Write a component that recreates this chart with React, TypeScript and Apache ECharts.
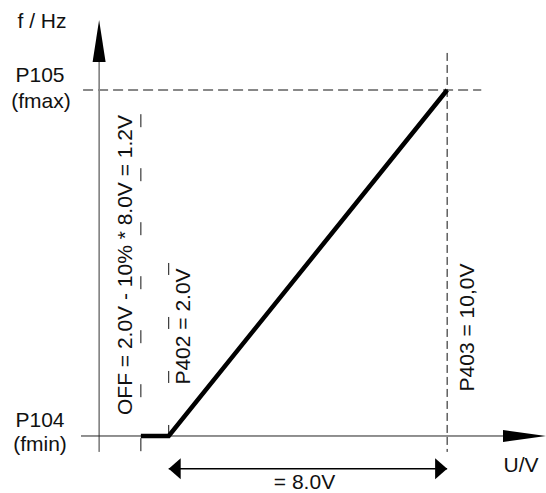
import React, { useEffect, useRef } from "react";
import * as echarts from "echarts";

// ---- chart values ----
const pointNames = ["OFF", "P402", "P403"];
const voltages = [1.2, 2.0, 10.0]; // U/V
const frequencies = [0, 0, 1]; // fmin, fmin, fmax (normalised)
const freqLevels = [0, 1]; // P104 (fmin), P105 (fmax)
const freqLabels = [["P104", "(fmin)"], ["P105", "(fmax)"]];
const voltageLabels = ["OFF = 2.0V - 10% * 8.0V = 1.2V", "P402 = 2.0V", "P403 = 10,0V"];
const spanLabel = "= 8.0V";
const xAxisName = "U/V";
const yAxisName = "f / Hz";

// ---- layout (not data) ----
const W = 546;
const H = 493;
const X_MIN = -0.52;
const X_MAX = 12.84;
const Y_MIN = -0.05;
const Y_MAX = 1.21;
const GUIDE_BOTTOM = -0.046;
const GUIDE_TOPS = [0.93, 0.5, 1.107];
const GUIDE_DASH: any[] = [[13, 41], [12, 42], [8, 4]];
const FMAX_GUIDE_X = [-0.46, 10.98];
const Y_AXIS_TOP = 1.202;
const DIM_Y = -0.095;
const FONT = "'Liberation Sans', Arial, sans-serif";
const FS = 21;

const ARROW_STYLE = [
  { dx: 0, dy: -1, len: 42, half: 6.5 },
  { dx: 1, dy: 0, len: 43, half: 6 },
  { dx: -1, dy: 0, len: 12, half: 10.5 },
  { dx: 1, dy: 0, len: 12, half: 10.5 },
];

export default function App() {
  const ref = useRef<HTMLDivElement>(null);
  useEffect(() => {
    if (!ref.current) return;
    const chart = echarts.init(ref.current, undefined, { renderer: "svg" });

    const curve = voltages.map((v, i) => [v, frequencies[i]]);
    const fmax = freqLevels[1];
    const fmin = freqLevels[0];

    const lineSeries = (name: string, data: any[], color: string, width: number, type: any, z = 2) => ({
      type: "line",
      name,
      data,
      symbol: "none",
      silent: true,
      clip: false,
      z,
      lineStyle: { color, width, type, join: "miter", cap: "butt" },
      emphasis: { disabled: true },
    });

    const series: any[] = [];
    // axis lines
    series.push(lineSeries("yAxisLine", [[0, GUIDE_BOTTOM], [0, Y_AXIS_TOP - 0.05]], "#333", 1, "solid"));
    series.push(lineSeries("xAxisLine", [[X_MIN, fmin], [X_MAX - 0.3, fmin]], "#222", 1, "solid"));
    // fmax guide
    series.push(lineSeries("fmaxGuide", [[FMAX_GUIDE_X[0], fmax], [FMAX_GUIDE_X[1], fmax]], "#888", 2, [10, 5]));
    // vertical guides
    voltages.forEach((v, i) => {
      series.push(lineSeries("guide" + pointNames[i], [[v, GUIDE_TOPS[i]], [v, GUIDE_BOTTOM]], "#111", 1, GUIDE_DASH[i]));
    });
    // dimension line
    series.push(lineSeries("span", [[voltages[1], DIM_Y], [voltages[2], DIM_Y]], "#000", 1.5, "solid"));
    // characteristic curve
    series.push(lineSeries("curve", curve, "#000", 4.5, "solid", 5));
    // arrowheads
    series.push({
      type: "custom",
      name: "arrows",
      clip: false,
      silent: true,
      z: 6,
      data: [
        [0, Y_AXIS_TOP],
        [X_MAX, fmin],
        [voltages[1], DIM_Y],
        [voltages[2], DIM_Y],
      ],
      encode: { x: 0, y: 1 },
      renderItem: (params: any, api: any) => {
        const a = ARROW_STYLE[params.dataIndex];
        const p = api.coord([api.value(0), api.value(1)]);
        const bx = p[0] - a.dx * a.len;
        const by = p[1] - a.dy * a.len;
        const nx = -a.dy;
        const ny = a.dx;
        return {
          type: "polygon",
          shape: {
            points: [
              [p[0], p[1]],
              [bx + nx * a.half, by + ny * a.half],
              [bx - nx * a.half, by - ny * a.half],
            ],
          },
          style: { fill: "#000" },
        };
      },
    });

    const txt = (text: string, x: number, y: number, rotation = 0) => ({
      type: "text",
      x,
      y,
      rotation,
      silent: true,
      z: 10,
      style: {
        text,
        x: 0,
        y: 0,
        fill: "#111",
        font: `${FS}px ${FONT}`,
        align: "center",
        verticalAlign: "middle",
      },
    });

    const graphic: any[] = [
      txt(yAxisName, 42, 20.5),
      txt(freqLabels[1][0], 40, 74.5),
      txt(freqLabels[1][1], 41, 100.5),
      txt(freqLabels[0][0], 40, 419.5),
      txt(freqLabels[0][1], 40, 443),
      txt(xAxisName, 521, 464.5),
      txt(spanLabel, 304.5, 481.5),
      txt(voltageLabels[0], 124.5, 265, Math.PI / 2),
      txt(voltageLabels[1], 182.5, 326.5, Math.PI / 2),
      txt(voltageLabels[2], 466, 327.5, Math.PI / 2),
    ];

    chart.setOption({
      animation: false,
      backgroundColor: "#fff",
      grid: { left: 81, right: 0, top: 17.3, bottom: 39.7, containLabel: false },
      xAxis: { type: "value", min: X_MIN, max: X_MAX, show: false },
      yAxis: { type: "value", min: Y_MIN, max: Y_MAX, show: false },
      series,
      graphic,
    });
    return () => chart.dispose();
  }, []);

  return (
    <div
      ref={ref}
      style={{ position: "fixed", left: 0, top: 0, width: W, height: H, background: "#fff" }}
    />
  );
}
